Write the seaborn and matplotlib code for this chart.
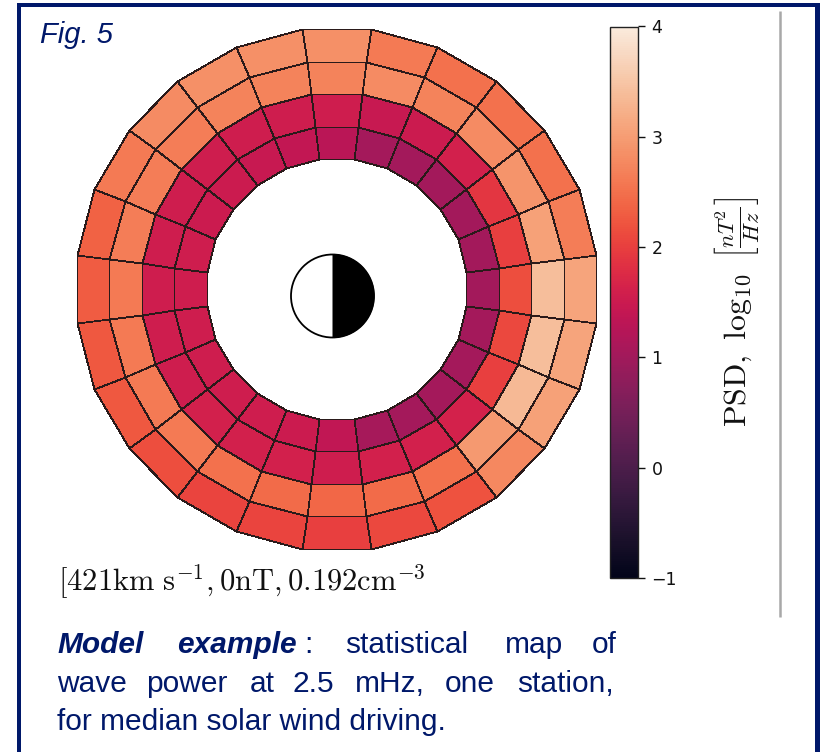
import numpy as np
import matplotlib
matplotlib.use("Agg")
import matplotlib.pyplot as plt
from matplotlib.patches import Circle, Wedge, Rectangle
import seaborn as sns

# Wave power (log10 PSD), 24 sectors clockwise from the top, inner ring to outer ring
ring_1 = [1.30, 1.05, 1.02, 1.02, 1.02, 1.02, 1.03, 1.05, 1.05, 1.05, 1.05, 1.07,
          1.38, 1.50, 1.55, 1.55, 1.55, 1.55, 1.55, 1.55, 1.50, 1.50, 1.45, 1.40]
ring_2 = [1.55, 1.45, 1.50, 1.60, 1.90, 2.00, 2.15, 2.10, 2.00, 1.62, 1.60, 1.60,
          1.55, 1.60, 1.60, 1.60, 1.55, 1.55, 1.55, 1.55, 1.55, 1.55, 1.55, 1.55]
ring_3 = [2.70, 2.80, 2.70, 2.80, 2.90, 3.05, 3.40, 3.40, 3.35, 2.95, 2.50, 2.45,
          2.40, 2.45, 2.50, 2.60, 2.60, 2.60, 2.60, 2.65, 2.65, 2.65, 2.70, 2.70]
ring_4 = [2.85, 2.60, 2.50, 2.50, 2.50, 2.65, 3.10, 3.10, 3.05, 2.75, 2.20, 2.10,
          2.00, 2.05, 2.05, 2.15, 2.25, 2.25, 2.30, 2.35, 2.60, 2.80, 2.85, 2.85]
radial_edges = [4, 5, 6, 7, 8]
cbar_ticks = [-1, 0, 1, 2, 3, 4]
caption_line_1 = [("Model", True), ("example", True), (":", False),
                  ("statistical", False), ("map", False), ("of", False)]
caption_line_2 = ["wave", "power", "at", "2.5", "mHz,", "one", "station,"]
caption_line_3 = "for median solar wind driving."

W, H = 825, 752
NAVY = "#00186a"

sns.set_style("white")
plt.rcParams["mathtext.fontset"] = "cm"
plt.rcParams["font.family"] = ["DejaVu Sans"]
cmap = sns.color_palette("rocket", as_cmap=True)

fig = plt.figure(figsize=(W / 100, H / 100), dpi=100, facecolor="white")


def px_rect(x0, y0, x1, y1):
    return [x0 / W, 1 - y1 / H, (x1 - x0) / W, (y1 - y0) / H]


# Polar map
ax = fig.add_axes(px_rect(74.5, 27, 598.5, 551), projection="polar")
ax.set_theta_zero_location("N")
ax.set_theta_direction(-1)
values = np.array([ring_1, ring_2, ring_3, ring_4])
n = values.shape[1]
theta = np.deg2rad((np.arange(n + 1) - 0.5) * 360 / n)
mesh = ax.pcolormesh(theta, radial_edges, values, cmap=cmap, vmin=-1, vmax=4,
                     edgecolors="#2a1a1a", linewidth=0.6, shading="flat")
ax.set_ylim(0, radial_edges[-1])
ax.set_axis_off()
mesh.set_clip_on(False)

# Colour bar
cax = fig.add_axes(px_rect(609.5, 26.5, 637.5, 578))
cb = fig.colorbar(mesh, cax=cax, ticks=cbar_ticks)
cb.outline.set_linewidth(1.0)
cb.outline.set_edgecolor("#222222")
cax.tick_params(axis="y", right=True, length=5, width=1, labelsize=12.5,
                pad=5, colors="#111111")
cax.set_yticklabels(["\u22121", "0", "1", "2", "3", "4"])

# Overlay in pixel coordinates for decoration and text
ov = fig.add_axes([0, 0, 1, 1], facecolor="none", zorder=5)
ov.set_xlim(0, W)
ov.set_ylim(H, 0)
ov.set_axis_off()

# Frame
ov.add_patch(Rectangle((17, 3), 4, H, color=NAVY, lw=0))
ov.add_patch(Rectangle((815, 3), 4.5, H, color=NAVY, lw=0))
ov.add_patch(Rectangle((17, 3), 802.5, 4, color=NAVY, lw=0))
ov.plot([780, 780], [11, 617], color="#a8a8a8", lw=1.8, solid_capstyle="butt")

# Day/night symbol
ov.add_patch(Wedge((332.5, 296), 42, 90, 270, fc="white", ec="none"))
ov.add_patch(Wedge((332.5, 296), 42, -90, 90, fc="black", ec="none"))
ov.add_patch(Circle((332.5, 296), 41.5, fc="none", ec="black", lw=1.3))

# Texts
ov.text(40, 43, "Fig. 5", family="Liberation Sans", style="italic", fontsize=21,
        color=NAVY, ha="left", va="baseline")
ov.text(58, 591, r"$[421\mathrm{km\ s}^{-1},\mathrm{0nT},0.192\mathrm{cm}^{-3}$",
        fontsize=22, color="#111111", ha="left", va="baseline")
ov.text(738, 312, r"$\mathrm{PSD},\ \log_{10}\ \left[\frac{nT^2}{Hz}\right]$",
        fontsize=23, color="#111111", rotation=90, ha="center", va="center")

x1 = [57, 177, 304, 345, 505, 592]
for (word, bold), x in zip(caption_line_1, x1):
    ov.text(x, 653, word, family="Liberation Sans", fontsize=21.5, color=NAVY,
            style="italic" if bold else "normal",
            weight="bold" if bold else "normal", ha="left", va="baseline")
x2 = [57, 146, 250, 292, 355, 445, 517]
for word, x in zip(caption_line_2, x2):
    ov.text(x, 692, word, family="Liberation Sans", fontsize=21.5, color=NAVY,
            ha="left", va="baseline")
ov.text(57, 730, caption_line_3, family="Liberation Sans", fontsize=21.5, color=NAVY,
        ha="left", va="baseline")

fig.savefig("out.png", dpi=100, facecolor="white")
